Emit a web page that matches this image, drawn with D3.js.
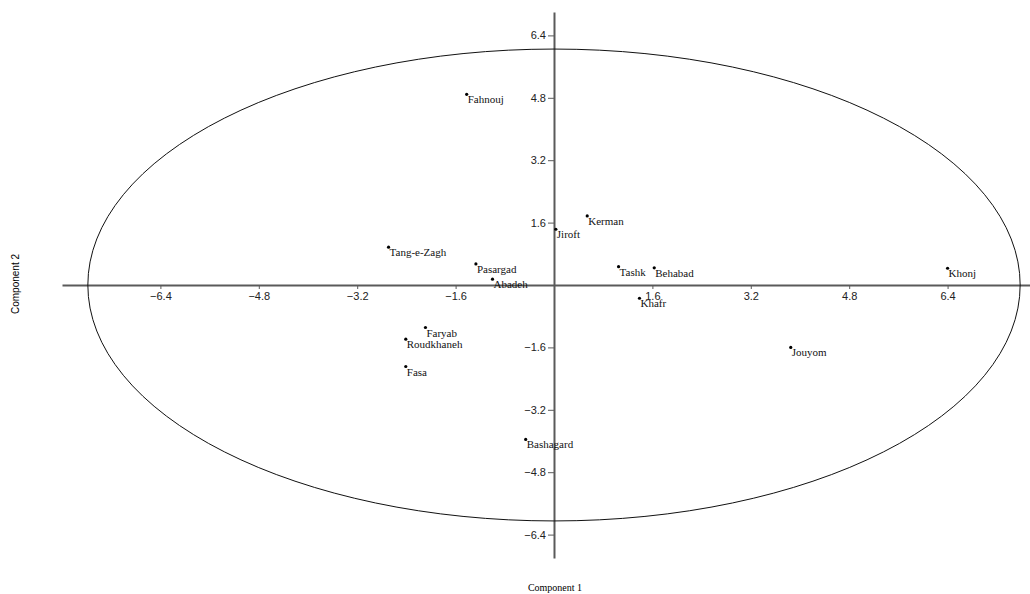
<!DOCTYPE html>
<html>
<head>
<meta charset="utf-8">
<script src="https://cdn.jsdelivr.net/npm/d3@7"></script>
<style>
  body { margin: 0; background: #fff; }
  svg { display: block; }
</style>
</head>
<body>
<div id="chart"></div>
<script>
// site names and their scores on the first two components
const names = ["Fahnouj", "Tang-e-Zagh", "Pasargad", "Abadeh", "Jiroft", "Kerman", "Tashk",
               "Behabad", "Khonj", "Khafr", "Jouyom", "Bashagard", "Faryab", "Roudkhaneh", "Fasa"];
const comp1 = [-1.42, -2.69, -1.27, -1.00, 0.03, 0.54, 1.05, 1.63, 6.40, 1.39, 3.85, -0.46, -2.09, -2.41, -2.41];
const comp2 = [4.89, 0.97, 0.54, 0.15, 1.43, 1.77, 0.47, 0.44, 0.43, -0.34, -1.60, -3.96, -1.09, -1.39, -2.09];
const xTicks = [-6.4, -4.8, -3.2, -1.6, 1.6, 3.2, 4.8, 6.4];
const yTicks = [-6.4, -4.8, -3.2, -1.6, 1.6, 3.2, 4.8, 6.4];
// ellipse semi-axes in data units
const ellipseRx = 7.58;
const ellipseRy = 6.05;

const width = 1030, height = 594;

const svg = d3.select('#chart')
  .append('svg')
    .attr('width', width)
    .attr('height', height);

const x = d3.scaleLinear().domain([-8, 7.74]).range([62, 1030]);
const y = d3.scaleLinear().domain([-7, 7]).range([558, 12]);

const fmt = d3.format('.1f');
const axisColour = '#5a5a5a';

// x axis through y = 0
const xAxis = svg.append('g')
  .attr('transform', `translate(0, ${y(0)})`)
  .call(d3.axisBottom(x).tickValues(xTicks).tickFormat(fmt).tickSizeInner(4).tickSizeOuter(0).tickPadding(3));

// y axis through x = 0
const yAxis = svg.append('g')
  .attr('transform', `translate(${x(0)}, 0)`)
  .call(d3.axisLeft(y).tickValues(yTicks).tickFormat(fmt).tickSizeInner(6).tickSizeOuter(0).tickPadding(2));

[xAxis, yAxis].forEach(a => {
  a.select('.domain').attr('stroke', axisColour).attr('stroke-width', 2);
  a.selectAll('.tick line').attr('stroke', axisColour).attr('stroke-width', 1);
  a.selectAll('.tick text')
   .attr('fill', '#222')
   .attr('font-family', '"Liberation Sans", Arial, sans-serif')
   .attr('font-size', 11);
});

// confidence ellipse
svg.append('ellipse')
  .attr('cx', x(0))
  .attr('cy', y(0))
  .attr('rx', x(ellipseRx) - x(0))
  .attr('ry', y(0) - y(ellipseRy))
  .attr('fill', 'none')
  .attr('stroke', '#111')
  .attr('stroke-width', 1);

// points and labels
const data = names.map((n, i) => ({ name: n, c1: comp1[i], c2: comp2[i] }));

const pts = svg.append('g')
  .selectAll('g')
  .data(data)
  .enter()
  .append('g')
    .attr('transform', d => `translate(${x(d.c1)}, ${y(d.c2)})`);

pts.append('circle')
  .attr('r', 1.6)
  .attr('fill', '#000');

pts.append('text')
  .attr('x', 1)
  .attr('y', 9)
  .attr('font-family', '"Liberation Serif", "Times New Roman", serif')
  .attr('font-size', 11)
  .attr('fill', '#111')
  .text(d => d.name);

// axis titles
svg.append('text')
  .attr('x', 555)
  .attr('y', 591)
  .attr('text-anchor', 'middle')
  .attr('font-family', '"Liberation Serif", "Times New Roman", serif')
  .attr('font-size', 10)
  .text('Component 1');

svg.append('text')
  .attr('transform', `translate(19, 284) rotate(-90)`)
  .attr('text-anchor', 'middle')
  .attr('font-family', '"Liberation Sans", Arial, sans-serif')
  .attr('font-size', 10)
  .text('Component 2');
</script>
</body>
</html>
